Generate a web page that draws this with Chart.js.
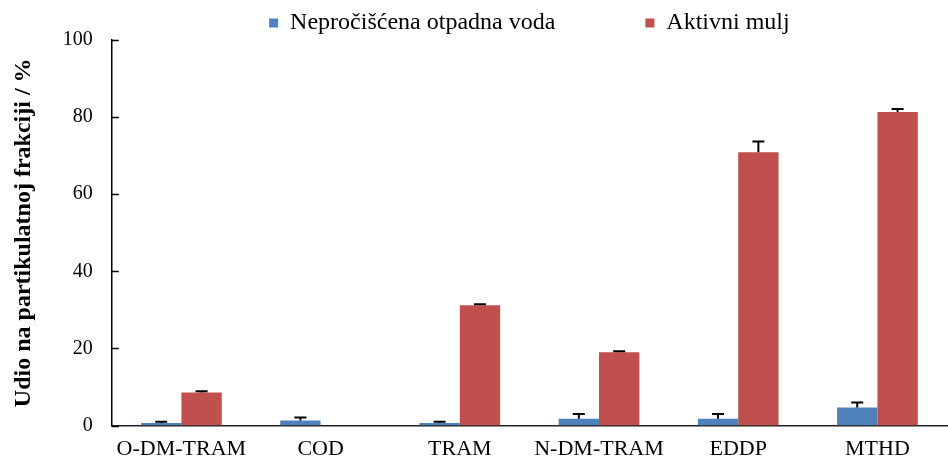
<!DOCTYPE html>
<html>
<head>
<meta charset="utf-8">
<script src="https://cdn.jsdelivr.net/npm/chart.js@4.4.0/dist/chart.umd.min.js"></script>
<style>
  html, body { margin: 0; padding: 0; background: #fff; }
  #wrap { width: 948px; height: 461px; }
</style>
</head>
<body>
<div id="wrap"><canvas id="myChart"></canvas></div>
<script>
// kategorije i vrijednosti (%)
const categories = ['O-DM-TRAM', 'COD', 'TRAM', 'N-DM-TRAM', 'EDDP', 'MTHD'];
const wastewater = [0.7, 1.3, 0.7, 1.8, 1.8, 4.7];
const wastewaterErr = [0.3, 0.8, 0.3, 1.2, 1.2, 1.3];
const sludge = [8.6, 0, 31.2, 19.0, 70.9, 81.3];
const sludgeErr = [0.3, 0, 0.3, 0.3, 2.8, 0.8];
const yTicks = [0, 20, 40, 60, 80, 100];

const serif = '"Liberation Serif", "Times New Roman", serif';
Chart.defaults.font.family = serif;
Chart.defaults.color = '#000';

// gornje polovice error barova
const errorBars = {
  id: 'errorBars',
  afterDatasetsDraw(chart) {
    const ctx = chart.ctx;
    const y = chart.scales.y;
    chart.data.datasets.forEach((ds, di) => {
      const meta = chart.getDatasetMeta(di);
      meta.data.forEach((bar, i) => {
        const err = ds.errors[i];
        if (!err) return;
        const top = y.getPixelForValue(ds.data[i] + err);
        ctx.save();
        ctx.strokeStyle = '#000';
        ctx.lineWidth = 2;
        ctx.beginPath();
        ctx.moveTo(bar.x, bar.y);
        ctx.lineTo(bar.x, top);
        ctx.moveTo(bar.x - 6, top);
        ctx.lineTo(bar.x + 6, top);
        ctx.stroke();
        ctx.restore();
      });
    });
  }
};

// kratke oznake na y osi okrenute prema unutra
const innerTicks = {
  id: 'innerTicks',
  afterDraw(chart) {
    const ctx = chart.ctx;
    const y = chart.scales.y;
    const left = chart.chartArea.left;
    ctx.save();
    ctx.strokeStyle = '#000';
    ctx.lineWidth = 1.5;
    ctx.beginPath();
    yTicks.forEach(t => {
      const py = Math.round(y.getPixelForValue(t)) + 0.5;
      ctx.moveTo(left, py);
      ctx.lineTo(left + 7, py);
    });
    ctx.stroke();
    ctx.restore();
  }
};

// legenda: niska kutija, a veliki razmak izmedu stavki;
// padding pomice i crtanje prema dolje pa ga vracamo gore
const LEGEND_PAD = 90;
const legendTweak = {
  id: 'legendTweak',
  beforeInit(chart) {
    const legend = chart.legend;
    const fit = legend.fit;
    legend.fit = function () {
      fit.bind(legend)();
      this.height = 40;
    };
    legend.draw = function () {
      const ctx = this.ctx;
      ctx.save();
      ctx.translate(0, -(LEGEND_PAD - 11));
      this._draw();
      ctx.restore();
    };
  }
};

new Chart('myChart', {
  type: 'bar',
  data: {
    labels: categories,
    datasets: [
      {
        label: 'Nepročišćena otpadna voda',
        data: wastewater,
        errors: wastewaterErr,
        backgroundColor: '#4F81BD'
      },
      {
        label: 'Aktivni mulj',
        data: sludge,
        errors: sludgeErr,
        backgroundColor: '#C0504D'
      }
    ]
  },
  options: {
    responsive: true,
    maintainAspectRatio: false,
    animation: false,
    devicePixelRatio: 1,
    categoryPercentage: 0.58,
    barPercentage: 1.0,
    layout: { padding: { left: 9, right: 1, top: 0, bottom: -11 } },
    plugins: {
      tooltip: { enabled: false },
      legend: {
        position: 'top',
        fullSize: false,
        labels: {
          boxWidth: 9,
          boxHeight: 9,
          padding: LEGEND_PAD,
          color: '#000',
          font: { family: serif, size: 24 }
        }
      }
    },
    scales: {
      x: {
        grid: { display: false, drawTicks: false },
        border: { color: '#222', width: 1.5 },
        ticks: {
          color: '#000',
          padding: 10,
          font: { family: serif, size: 22 }
        }
      },
      y: {
        min: 0,
        max: 100,
        afterBuildTicks(axis) {
          axis.ticks = yTicks.map(v => ({ value: v }));
        },
        grid: { display: false, drawTicks: false },
        border: { color: '#000', width: 1.5 },
        ticks: {
          color: '#000',
          padding: 19,
          font: { family: serif, size: 20 }
        },
        title: {
          display: true,
          text: 'Udio na partikulatnoj frakciji / %',
          color: '#000',
          padding: { top: 0, bottom: 6 },
          font: { family: serif, size: 24, weight: 'bold' }
        }
      }
    }
  },
  plugins: [errorBars, innerTicks, legendTweak]
});
</script>
</body>
</html>
